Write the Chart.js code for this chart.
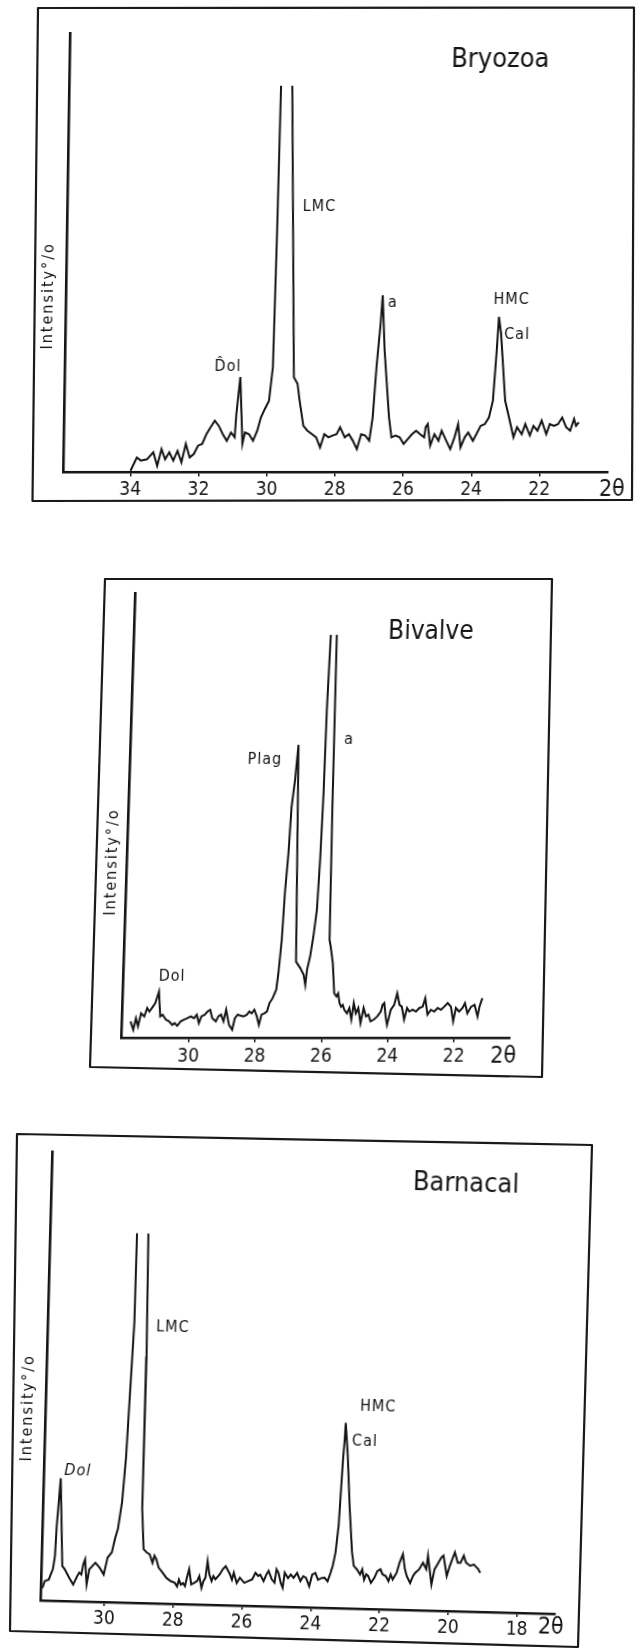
<!DOCTYPE html>
<html><head><meta charset="utf-8">
<script src="https://cdn.jsdelivr.net/npm/chart.js"></script>
<style>
html,body{margin:0;padding:0;background:#fff;width:638px;height:1651px;overflow:hidden}
.panel{position:absolute;left:0;width:638px}
canvas{position:absolute;left:0;top:0}
#frames{position:absolute;left:0;top:0}
</style></head><body>
<div class="panel" id="p1" style="top:0;height:520px;transform-origin:0 472.5px;transform:skewX(-0.9deg)">
  <canvas id="c1" width="638" height="520"></canvas>
</div>
<div class="panel" id="p2" style="top:540px;height:560px;transform-origin:0 498.5px;transform:skewX(-1.8deg)">
  <canvas id="c2" width="638" height="560"></canvas>
</div>
<div class="panel" id="p3" style="top:1100px;height:551px;transform-origin:297px 289px;transform:rotate(1.5deg)">
  <canvas id="c3" width="638" height="551"></canvas>
</div>
<svg id="frames" width="638" height="1651" xmlns="http://www.w3.org/2000/svg">
  <g fill="none" stroke="#1a1a1a" stroke-width="2.2" stroke-linejoin="round">
    <polygon points="38,8 634,7.5 632,500 32.5,501"/>
    <polygon points="105,579 552,579 542,1077 90,1067"/>
    <polygon points="17,1134 592,1145 578,1647 10,1631"/>
  </g>
</svg>
<script>
// ---------- data: 2θ (degrees) and relative intensity (%) ----------
const bryozoaTheta = [34.00,33.82,33.70,33.52,33.34,33.22,33.10,32.99,32.87,32.75,
32.63,32.51,32.39,32.27,32.15,32.03,31.91,31.79,31.67,31.55,
31.43,31.31,31.19,31.07,30.96,30.92,30.82,30.73,30.66,30.54,
30.42,30.30,30.20,30.09,29.97,29.87,29.81,29.76,29.60,29.43,
29.25,29.14,29.07,28.95,28.83,28.69,28.57,28.45,28.33,28.21,
28.09,27.97,27.87,27.73,27.61,27.49,27.37,27.25,27.13,27.01,
26.92,26.83,26.73,26.68,26.60,26.44,26.36,26.24,26.12,26.00,
25.88,25.76,25.64,25.52,25.40,25.36,25.30,25.22,25.10,24.98,
24.89,24.75,24.63,24.51,24.41,24.33,24.21,24.11,23.97,23.87,
23.75,23.63,23.51,23.40,23.31,23.26,23.19,23.04,22.92,22.78,
22.68,22.54,22.44,22.30,22.20,22.08,21.96,21.82,21.72,21.60,
21.48,21.36,21.24,21.12,21.01,20.95,20.87];
const bryozoaIntensity = [0.4,3.4,2.7,3.0,4.6,1.5,5.3,3.0,4.6,2.7,
4.9,2.3,6.5,3.4,4.2,6.1,6.5,8.7,10.3,11.8,
10.6,8.7,7.2,9.1,8.0,13.3,21.7,6.5,9.1,8.7,
7.2,9.5,12.5,14.4,16.3,24.0,54.4,88.0,null,88.0,
21.7,20.2,16.3,10.6,9.5,8.7,8.0,5.7,8.7,8.0,
8.4,8.7,10.3,8.0,8.7,7.2,5.3,8.7,8.4,7.2,
12.5,24.0,33.8,40.3,27.8,12.5,8.0,8.4,8.0,6.5,
7.6,8.7,9.5,8.7,8.0,10.3,11.0,6.1,8.7,7.2,
9.5,7.2,5.3,8.0,11.0,5.7,8.0,9.1,7.2,8.7,
10.6,11.0,12.5,16.3,27.8,35.4,31.6,16.3,12.5,8.0,
10.3,8.7,11.0,8.4,10.6,9.5,11.8,8.7,11.0,10.6,
11.0,12.5,10.3,9.5,12.2,10.6,11.4];

const bivalveTheta = [31.77,31.68,31.61,31.54,31.46,31.36,31.28,31.21,31.11,31.04,
30.94,30.88,30.81,30.71,30.61,30.51,30.44,30.36,30.26,30.16,
30.06,29.96,29.86,29.78,29.71,29.64,29.54,29.46,29.38,29.31,
29.20,29.13,29.05,28.97,28.90,28.80,28.70,28.63,28.55,28.47,
28.37,28.27,28.20,28.13,28.05,27.97,27.90,27.83,27.75,27.67,
27.60,27.51,27.41,27.36,27.29,27.24,27.17,27.12,27.04,26.97,
26.84,26.71,26.60,26.54,26.50,26.42,26.34,26.26,26.21,26.17,
26.15,26.10,26.01,25.92,25.89,25.85,25.81,25.73,25.66,25.59,
25.54,25.49,25.44,25.39,25.34,25.26,25.19,25.12,25.06,24.99,
24.92,24.84,24.76,24.68,24.61,24.54,24.44,24.34,24.24,24.19,
24.14,24.09,24.04,23.94,23.84,23.76,23.68,23.61,23.53,23.45,
23.38,23.28,23.18,23.08,22.98,22.91,22.83,22.73,22.63,22.53,
22.43,22.33,22.23,22.13,22.05,21.98,21.88,21.78,21.71,21.63,
21.52,21.42,21.32,21.27,21.19];
const bivalveIntensity = [3.8,1.9,4.5,2.7,5.6,4.9,6.8,6.0,7.1,7.9,
10.5,4.9,5.3,4.2,3.8,3.0,3.4,2.8,3.8,4.2,
4.5,4.9,4.5,5.3,3.4,4.9,5.3,6.0,6.4,4.5,
3.8,4.9,5.3,3.8,6.4,3.0,1.9,4.5,5.3,5.1,
4.9,5.3,6.0,5.6,6.4,4.9,3.0,5.3,5.6,6.0,
7.9,9.0,10.9,14.6,22.1,32.6,41.6,52.0,58.0,65.9,
17.2,15.8,14.3,12.0,15.4,18.4,22.9,28.8,40.1,55.0,
73.7,90.6,null,90.6,51.7,22.1,20.6,16.9,10.1,9.4,
10.1,7.9,7.1,7.5,6.4,5.6,6.8,4.2,7.9,5.6,
6.8,3.4,6.8,4.9,5.3,3.8,4.2,4.9,6.0,7.5,
7.9,4.9,3.0,6.4,7.5,10.1,7.5,7.1,4.2,6.8,
6.0,6.4,6.0,6.8,7.1,9.0,5.3,6.4,6.0,6.8,
6.4,7.1,7.9,7.1,3.8,6.8,6.0,6.8,7.9,5.6,
7.1,7.5,4.9,7.1,9.0];

const barnacalTheta = [31.81,31.75,31.63,31.58,31.52,31.47,31.44,31.40,31.36,31.25,
31.17,31.04,30.92,30.81,30.75,30.69,30.64,30.59,30.53,30.46,
30.37,30.29,30.16,30.04,29.94,29.82,29.74,29.66,29.56,29.48,
29.41,29.34,29.33,29.17,29.00,28.96,28.97,28.97,28.90,28.81,
28.72,28.63,28.58,28.52,28.45,28.33,28.21,28.08,27.97,27.90,
27.85,27.79,27.73,27.67,27.62,27.56,27.49,27.40,27.32,27.26,
27.19,27.14,27.08,27.03,26.97,26.90,26.85,26.79,26.67,26.58,
26.50,26.37,26.31,26.26,26.17,26.08,25.95,25.84,25.72,25.63,
25.55,25.49,25.39,25.31,25.25,25.15,25.07,25.02,24.96,24.89,
24.83,24.78,24.68,24.60,24.52,24.42,24.32,24.24,24.16,24.06,
23.98,23.89,23.81,23.71,23.62,23.53,23.45,23.39,23.32,23.25,
23.21,23.17,23.14,23.12,23.04,22.94,22.84,22.78,22.68,22.59,
22.53,22.47,22.41,22.35,22.27,22.17,22.09,22.00,21.94,21.84,
21.76,21.70,21.64,21.58,21.53,21.45,21.36,21.29,21.23,21.13,
21.05,20.99,20.88,20.77,20.67,20.63,20.51,20.43,20.35,20.24,
20.18,20.07,19.99,19.92,19.85,19.76,19.68,19.59,19.52,19.40,
19.29,19.16,19.10];
const barnacalIntensity = [2.8,4.3,4.7,5.8,7.0,10.0,16.8,22.0,27.3,7.8,
7.0,5.2,3.7,5.6,6.4,6.0,8.3,9.4,3.8,7.2,
8.0,8.7,7.6,6.1,9.9,11.1,14.1,16.4,22.4,32.2,
47.3,62.4,82.3,null,82.3,54.9,39.8,21.0,12.0,11.3,
10.9,9.0,10.6,9.8,8.0,6.9,5.7,5.0,4.7,3.9,
5.4,4.3,4.7,4.0,5.9,7.8,4.4,4.8,5.2,6.3,
3.7,5.2,6.0,9.7,6.8,5.3,6.4,5.7,6.8,8.0,
8.7,6.9,5.7,7.3,5.0,6.2,5.1,5.5,5.9,7.4,
6.7,7.0,5.6,7.1,7.9,6.0,5.3,8.3,7.5,5.3,
4.2,7.6,6.4,7.2,6.5,7.6,5.8,6.9,6.6,4.7,
7.3,7.7,6.2,6.6,6.7,5.9,7.8,9.4,12.4,18.4,
26.0,33.5,37.3,41.3,34.3,22.2,12.5,9.5,8.7,7.6,
8.8,6.5,7.7,7.3,5.8,7.0,8.5,8.9,7.8,7.4,
6.3,7.8,6.7,7.5,8.2,10.5,12.4,9.0,7.5,6.0,
7.6,8.3,9.1,10.6,9.2,12.2,5.8,9.2,10.3,11.9,
12.3,7.8,10.0,11.6,13.1,10.8,10.8,12.4,10.9,10.2,
10.5,9.5,8.7];

// tick labels (2θ)
const bryozoaTicks = [22,24,26,28,30,32,34];
const bivalveTicks = [22,24,26,28,30];
const barnacalTicks = [18,20,22,24,26,28,30];

// peak labels and their anchors (2θ, intensity)
const bryozoaPeakNames = ['LMC','a','HMC','Cal','D\u0302ol'];
const bryozoaPeakTheta = [28.58,26.38,22.90,22.72,31.19];
const bryozoaPeakLevel = [60.4,38.6,39.2,31.3,24.0];
const bivalvePeakNames = ['Plag','a','Dol'];
const bivalvePeakTheta = [27.97,25.45,30.56];
const bivalvePeakLevel = [62.5,67.0,13.8];
const barnacalPeakNames = ['LMC','HMC','Cal','Dol'];
const barnacalPeakTheta = [28.22,22.19,22.55,30.87];
const barnacalPeakLevel = [61.4,45.1,37.2,28.9];

const yTitle = 'Intensity\u00b0/o';
const xTitle = '2\u03b8';

// ---------- rendering ----------
const INK = '#141414';
const LABEL_FONT = "'DejaVu Sans Condensed','DejaVu Sans',sans-serif";
const TICK_FONT = "'Liberation Sans Narrow','DejaVu Sans Condensed','DejaVu Sans',sans-serif";

const textPlugin = {
  id: 'xrdText',
  afterDraw(chart, args, opts) {
    const {ctx, scales: {x, y}} = chart;
    (opts.items || []).forEach(it => {
      ctx.save();
      ctx.fillStyle = INK;
      ctx.font = (it.style ? it.style + ' ' : '') + it.size + 'px ' + (it.family || LABEL_FONT);
      if ('letterSpacing' in ctx) ctx.letterSpacing = (it.ls || 0) + 'px';
      ctx.textAlign = it.align || 'center';
      ctx.textBaseline = 'middle';
      ctx.translate(x.getPixelForValue(it.x), y.getPixelForValue(it.y));
      if (it.rot) ctx.rotate(it.rot * Math.PI / 180);
      ctx.fillText(it.text, 0, 0);
      ctx.restore();
    });
  }
};

function peakItems(names, th, lv, size, italicIdx) {
  return names.map((n, i) => ({text: n, x: th[i], y: lv[i], size: size, ls: 1,
    style: (italicIdx === i ? 'italic' : '')}));
}

function makeChart(id, theta, inten, ticks, g, items) {
  const pts = theta.map((t, i) => ({x: t, y: inten[i]}));
  return new Chart(document.getElementById(id), {
    type: 'line',
    data: {datasets: [{data: pts, borderColor: INK, borderWidth: 2, pointRadius: 0,
      tension: 0, fill: false, spanGaps: false}]},
    options: {
      responsive: false, animation: false, devicePixelRatio: 1,
      layout: {padding: {left: g.left, right: g.W - g.right, top: g.top, bottom: g.H - g.bottom - 40}},
      plugins: {legend: {display: false}, tooltip: {enabled: false}, xrdText: {items: items}},
      scales: {
        x: {type: 'linear', reverse: true, min: g.xmin, max: g.xmax,
          afterBuildTicks: s => { s.ticks = ticks.map(v => ({value: v})); },
          afterFit: s => { s.height = 40; },
          grid: {display: true, drawOnChartArea: false, drawTicks: true, tickLength: 4, color: INK, lineWidth: 1.5},
          border: {display: true, color: INK, width: 2.6},
          ticks: {color: INK, font: {family: TICK_FONT, size: 19}, padding: g.pad, maxRotation: 0,
            autoSkip: false, callback: v => String(v)}},
        y: {type: 'linear', min: 0, max: 100,
          afterFit: s => { s.width = 0; },
          grid: {display: false}, ticks: {display: false},
          border: {display: true, color: INK, width: 2.6}}
      }
    },
    plugins: [textPlugin]
  });
}

makeChart('c1', bryozoaTheta, bryozoaIntensity, bryozoaTicks,
  {W: 638, H: 520, left: 63, right: 608, top: 33, bottom: 472.5, xmin: 19.99, xmax: 35.98, pad: 2},
  [{text: 'Bryozoa', x: 23.34, y: 93.9, size: 27},
   {text: yTitle, x: 36.47, y: 40.2, size: 16, ls: 2, rot: -90},
   {text: xTitle, x: 19.87, y: -4.0, size: 23, family: TICK_FONT}]
  .concat(peakItems(bryozoaPeakNames, bryozoaPeakTheta, bryozoaPeakLevel, 16)));

makeChart('c2', bivalveTheta, bivalveIntensity, bivalveTicks,
  {W: 638, H: 560, left: 121.7, right: 510, top: 53, bottom: 498.5, xmin: 20.32, xmax: 32.02, pad: 3},
  [{text: 'Bivalve', x: 23.09, y: 91.2, size: 26},
   {text: yTitle, x: 32.47, y: 39.6, size: 16, ls: 2, rot: -90},
   {text: xTitle, x: 20.51, y: -4.2, size: 23, family: TICK_FONT}]
  .concat(peakItems(bivalvePeakNames, bivalvePeakTheta, bivalvePeakLevel, 16)));

makeChart('c3', barnacalTheta, barnacalIntensity, barnacalTicks,
  {W: 638, H: 551, left: 46, right: 561, top: 58, bottom: 507, xmin: 16.89, xmax: 31.86, pad: 2},
  [{text: 'Barnacal', x: 19.81, y: 95.0, size: 27},
   {text: yTitle, x: 32.35, y: 42.8, size: 16, ls: 2, rot: -90},
   {text: xTitle, x: 17.01, y: -3.1, size: 23, family: TICK_FONT}]
  .concat(peakItems(barnacalPeakNames, barnacalPeakTheta, barnacalPeakLevel, 16, 3)));
</script>
</body></html>
